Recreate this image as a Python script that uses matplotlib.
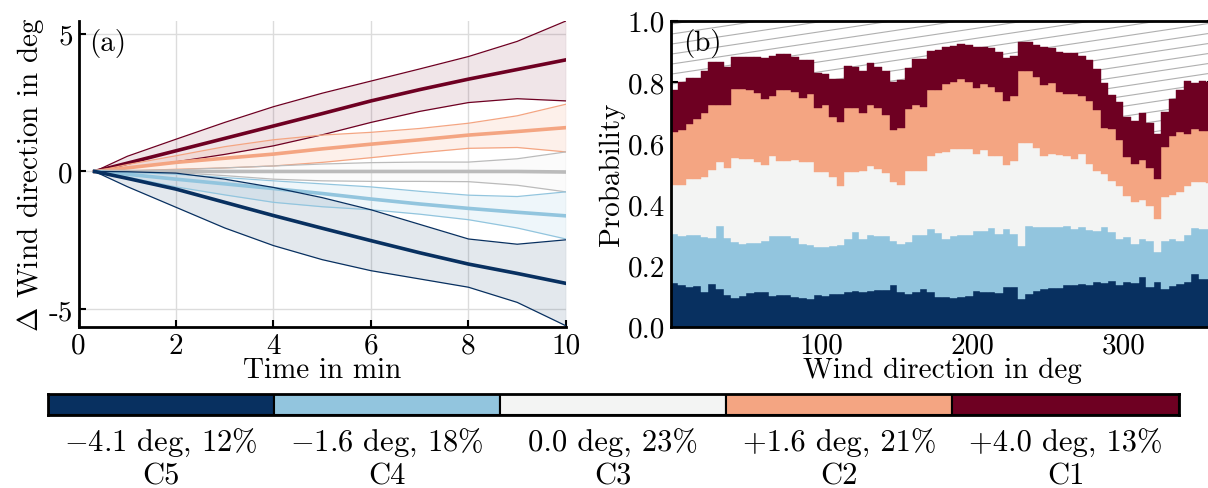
import numpy as np
import matplotlib
matplotlib.use("Agg")
import matplotlib.pyplot as plt
import matplotlib.transforms as mtransforms

plt.rcParams.update({
    "font.family": "serif", "font.serif": ["cmr10"], "mathtext.fontset": "cm",
    "axes.unicode_minus": False, "axes.formatter.use_mathtext": False,
    "font.size": 21,
})

C5, C4, C3, C2, C1 = "#083060", "#92c5de", "#f3f4f3", "#f4a582", "#6e0022"

# ---- panel (a): mean wind direction change per cluster, with spread ----
t = [0.33, 1, 2, 3, 4, 5, 6, 7, 8, 9, 10]
c1_mean = [0, 0.30, 0.75, 1.20, 1.65, 2.10, 2.56, 2.97, 3.35, 3.70, 4.05]
c1_up = [0, 0.55, 1.17, 1.78, 2.35, 2.84, 3.28, 3.72, 4.17, 4.72, 5.46]
c1_lo = [0, 0.12, 0.35, 0.62, 0.93, 1.33, 1.78, 2.18, 2.50, 2.64, 2.56]
c2_mean = [0, 0.13, 0.33, 0.48, 0.63, 0.82, 0.99, 1.15, 1.32, 1.45, 1.59]
c2_up = [0, 0.25, 0.57, 0.90, 1.15, 1.32, 1.42, 1.56, 1.75, 2.02, 2.44]
c2_lo = [0, 0.02, 0.08, 0.13, 0.20, 0.33, 0.50, 0.68, 0.84, 0.87, 0.71]
c3_mean = [0, 0, 0, 0, 0, 0, 0, 0, 0, 0, -0.02]
c3_up = [0, 0.02, 0.06, 0.13, 0.20, 0.27, 0.32, 0.34, 0.34, 0.46, 0.71]
c3_lo = [0, -0.01, -0.04, -0.15, -0.28, -0.34, -0.36, -0.36, -0.37, -0.50, -0.74]
c4_mean = [0, -0.10, -0.28, -0.45, -0.62, -0.80, -1.00, -1.18, -1.34, -1.48, -1.61]
c4_up = [0, -0.03, -0.10, -0.22, -0.34, -0.45, -0.56, -0.72, -0.86, -0.91, -0.74]
c4_lo = [0, -0.20, -0.56, -0.85, -1.12, -1.28, -1.39, -1.55, -1.75, -2.05, -2.45]
c5_mean = [0, -0.25, -0.64, -1.12, -1.60, -2.06, -2.51, -2.95, -3.36, -3.70, -4.06]
c5_up = [0, -0.01, -0.06, -0.28, -0.58, -0.95, -1.39, -1.92, -2.45, -2.64, -2.48]
c5_lo = [0, -0.55, -1.30, -2.05, -2.69, -3.20, -3.60, -3.90, -4.20, -4.75, -5.60]

# ---- panel (b): cumulative cluster probability per 5 deg direction bin ----
bin_width = 5
cum_c5 = [0.143, 0.136, 0.129, 0.132, 0.112, 0.140, 0.124, 0.104, 0.093, 0.101,
          0.109, 0.114, 0.114, 0.101, 0.104, 0.104, 0.096, 0.093, 0.090, 0.104,
          0.101, 0.107, 0.107, 0.112, 0.117, 0.114, 0.117, 0.120, 0.120, 0.136,
          0.112, 0.107, 0.114, 0.124, 0.112, 0.098, 0.098, 0.092, 0.098, 0.101,
          0.117, 0.114, 0.114, 0.110, 0.129, 0.129, 0.090, 0.107, 0.117, 0.124,
          0.127, 0.127, 0.136, 0.136, 0.139, 0.136, 0.147, 0.143, 0.150, 0.136,
          0.145, 0.143, 0.161, 0.129, 0.145, 0.124, 0.132, 0.140, 0.147, 0.172,
          0.156, 0.156]
cum_c4 = [0.303, 0.295, 0.300, 0.300, 0.292, 0.290, 0.328, 0.290, 0.278, 0.270,
          0.273, 0.273, 0.281, 0.295, 0.295, 0.295, 0.290, 0.270, 0.267, 0.259,
          0.259, 0.265, 0.267, 0.285, 0.309, 0.287, 0.298, 0.295, 0.295, 0.281,
          0.270, 0.278, 0.298, 0.298, 0.320, 0.306, 0.287, 0.295, 0.300, 0.298,
          0.311, 0.311, 0.321, 0.303, 0.320, 0.303, 0.265, 0.328, 0.325, 0.325,
          0.326, 0.325, 0.328, 0.320, 0.325, 0.317, 0.314, 0.325, 0.309, 0.287,
          0.292, 0.270, 0.285, 0.281, 0.243, 0.281, 0.287, 0.281, 0.300, 0.321,
          0.320, 0.320]
cum_c3 = [0.464, 0.464, 0.483, 0.483, 0.490, 0.513, 0.537, 0.518, 0.551, 0.548,
          0.548, 0.537, 0.527, 0.559, 0.543, 0.543, 0.545, 0.538, 0.537, 0.504,
          0.506, 0.488, 0.461, 0.504, 0.504, 0.508, 0.524, 0.515, 0.502, 0.472,
          0.464, 0.510, 0.510, 0.510, 0.559, 0.568, 0.572, 0.580, 0.580, 0.580,
          0.565, 0.578, 0.557, 0.557, 0.527, 0.540, 0.600, 0.600, 0.585, 0.559,
          0.565, 0.560, 0.559, 0.547, 0.565, 0.530, 0.510, 0.500, 0.477, 0.460,
          0.428, 0.406, 0.415, 0.395, 0.352, 0.423, 0.430, 0.439, 0.461, 0.474,
          0.474, 0.470]
cum_c2 = [0.635, 0.644, 0.663, 0.679, 0.698, 0.723, 0.723, 0.726, 0.777, 0.777,
          0.772, 0.764, 0.743, 0.753, 0.772, 0.772, 0.766, 0.747, 0.761, 0.714,
          0.723, 0.685, 0.668, 0.714, 0.716, 0.698, 0.725, 0.714, 0.693, 0.644,
          0.649, 0.712, 0.725, 0.718, 0.774, 0.774, 0.793, 0.800, 0.808, 0.800,
          0.780, 0.793, 0.782, 0.768, 0.736, 0.754, 0.837, 0.837, 0.815, 0.790,
          0.797, 0.768, 0.760, 0.760, 0.754, 0.736, 0.707, 0.649, 0.645, 0.609,
          0.555, 0.533, 0.544, 0.517, 0.484, 0.587, 0.622, 0.636, 0.631, 0.645,
          0.638, 0.640]
cum_c1 = [0.772, 0.799, 0.813, 0.813, 0.837, 0.864, 0.864, 0.848, 0.880, 0.880,
          0.880, 0.880, 0.877, 0.885, 0.890, 0.890, 0.883, 0.870, 0.870, 0.829,
          0.826, 0.810, 0.808, 0.851, 0.848, 0.834, 0.861, 0.850, 0.834, 0.801,
          0.806, 0.846, 0.875, 0.875, 0.902, 0.905, 0.913, 0.918, 0.924, 0.922,
          0.913, 0.915, 0.910, 0.899, 0.877, 0.886, 0.930, 0.932, 0.920, 0.913,
          0.910, 0.897, 0.895, 0.895, 0.884, 0.870, 0.841, 0.797, 0.757, 0.734,
          0.685, 0.672, 0.699, 0.667, 0.629, 0.700, 0.745, 0.775, 0.802, 0.796,
          0.804, 0.800]

cluster_names = ["C5", "C4", "C3", "C2", "C1"]
cluster_info = [r"$-$4.1 deg, 12%", r"$-$1.6 deg, 18%", "0.0 deg, 23%",
                "+1.6 deg, 21%", "+4.0 deg, 13%"]
colors = [C5, C4, C3, C2, C1]

fig = plt.figure(figsize=(12.08, 4.89), dpi=100)

# panel (a)
ax = fig.add_axes([0.065, 0.330, 0.4035, 0.6256])
bands = [(c1_mean, c1_up, c1_lo, C1, C1, 0.10),
         (c2_mean, c2_up, c2_lo, C2, C2, 0.16),
         (c3_mean, c3_up, c3_lo, "#bbbbbb", C3, 0.3),
         (c4_mean, c4_up, c4_lo, C4, C4, 0.15),
         (c5_mean, c5_up, c5_lo, C5, C5, 0.11)]
for mean, up, lo, lc, fc, a in bands:
    ax.fill_between(t, lo, up, color=fc, alpha=a, lw=0)
    ax.plot(t, up, color=lc, lw=0.9)
    ax.plot(t, lo, color=lc, lw=0.9)
    ax.plot(t, mean, color=lc, lw=2.6)
ax.set_xlim(0, 10); ax.set_ylim(-5.63, 5.47)
ax.set_xticks([0, 2, 4, 6, 8, 10]); ax.set_yticks([-5, 0, 5])
ax.grid(True, color="#dcdcdc", lw=1)
ax.set_axisbelow(True)
for s in ("top", "right"):
    ax.spines[s].set_visible(False)
for s in ("left", "bottom"):
    ax.spines[s].set_linewidth(2)
ax.tick_params(direction="in", length=5, width=1.5, pad=4)
ax.set_xlabel("Time in min", labelpad=-1)
ax.set_ylabel(r"$\Delta$ Wind direction in deg", labelpad=2)
ax.text(0.0215, 0.929, "(a)", transform=ax.transAxes, va="center", ha="left")

# panel (b)
bx = fig.add_axes([0.5552, 0.330, 0.4498, 0.6256])
edges = np.arange(len(cum_c1)) * bin_width
for c in np.arange(-0.45, 1.05, 0.0327):
    xs = np.array([0, 360])
    bx.plot(xs, c + 0.00074 * xs, color="#b0b0b0", lw=0.8, zorder=0)
levels = [np.zeros(len(cum_c1)), cum_c5, cum_c4, cum_c3, cum_c2, cum_c1]
for i, col in enumerate(colors):
    lo = np.asarray(levels[i]); hi = np.asarray(levels[i + 1])
    bx.bar(edges, hi - lo, bottom=lo, width=bin_width, align="edge",
           color=col, edgecolor=col, lw=0.3, zorder=2)
bx.set_xlim(0, 360); bx.set_ylim(0, 1)
bx.set_xticks([100, 200, 300]); bx.set_yticks(np.arange(0, 1.01, 0.2))
bx.yaxis.set_major_formatter(matplotlib.ticker.FormatStrFormatter("%.1f"))
for s in bx.spines.values():
    s.set_linewidth(2); s.set_zorder(5)
bx.tick_params(direction="in", length=5, width=1.5, pad=4, right=True)
bx.set_xlabel("Wind direction in deg", labelpad=-1)
bx.set_ylabel("Probability", labelpad=2)
bx.text(0.0226, 0.929, "(b)", transform=bx.transAxes, va="center", ha="left", zorder=6)

# colour legend
cx = fig.add_axes([0.0396, 0.149, 0.936, 0.043])
cx.bar(np.arange(5), np.ones(5), width=1, align="edge", color=colors,
       edgecolor="black", lw=1.5)
cx.set_xlim(0, 5); cx.set_ylim(0, 1)
cx.set_xticks([]); cx.set_yticks([])
for s in cx.spines.values():
    s.set_linewidth(2)
trans = mtransforms.blended_transform_factory(cx.transData, cx.transAxes)
for i, (info, name) in enumerate(zip(cluster_info, cluster_names)):
    cx.text(i + 0.5, -1.29, info, transform=trans, ha="center", va="center",
            fontsize=22, clip_on=False)
    cx.text(i + 0.5, -2.9, name, transform=trans, ha="center", va="center",
            fontsize=22, clip_on=False)

fig.savefig("out.png", dpi=100)
